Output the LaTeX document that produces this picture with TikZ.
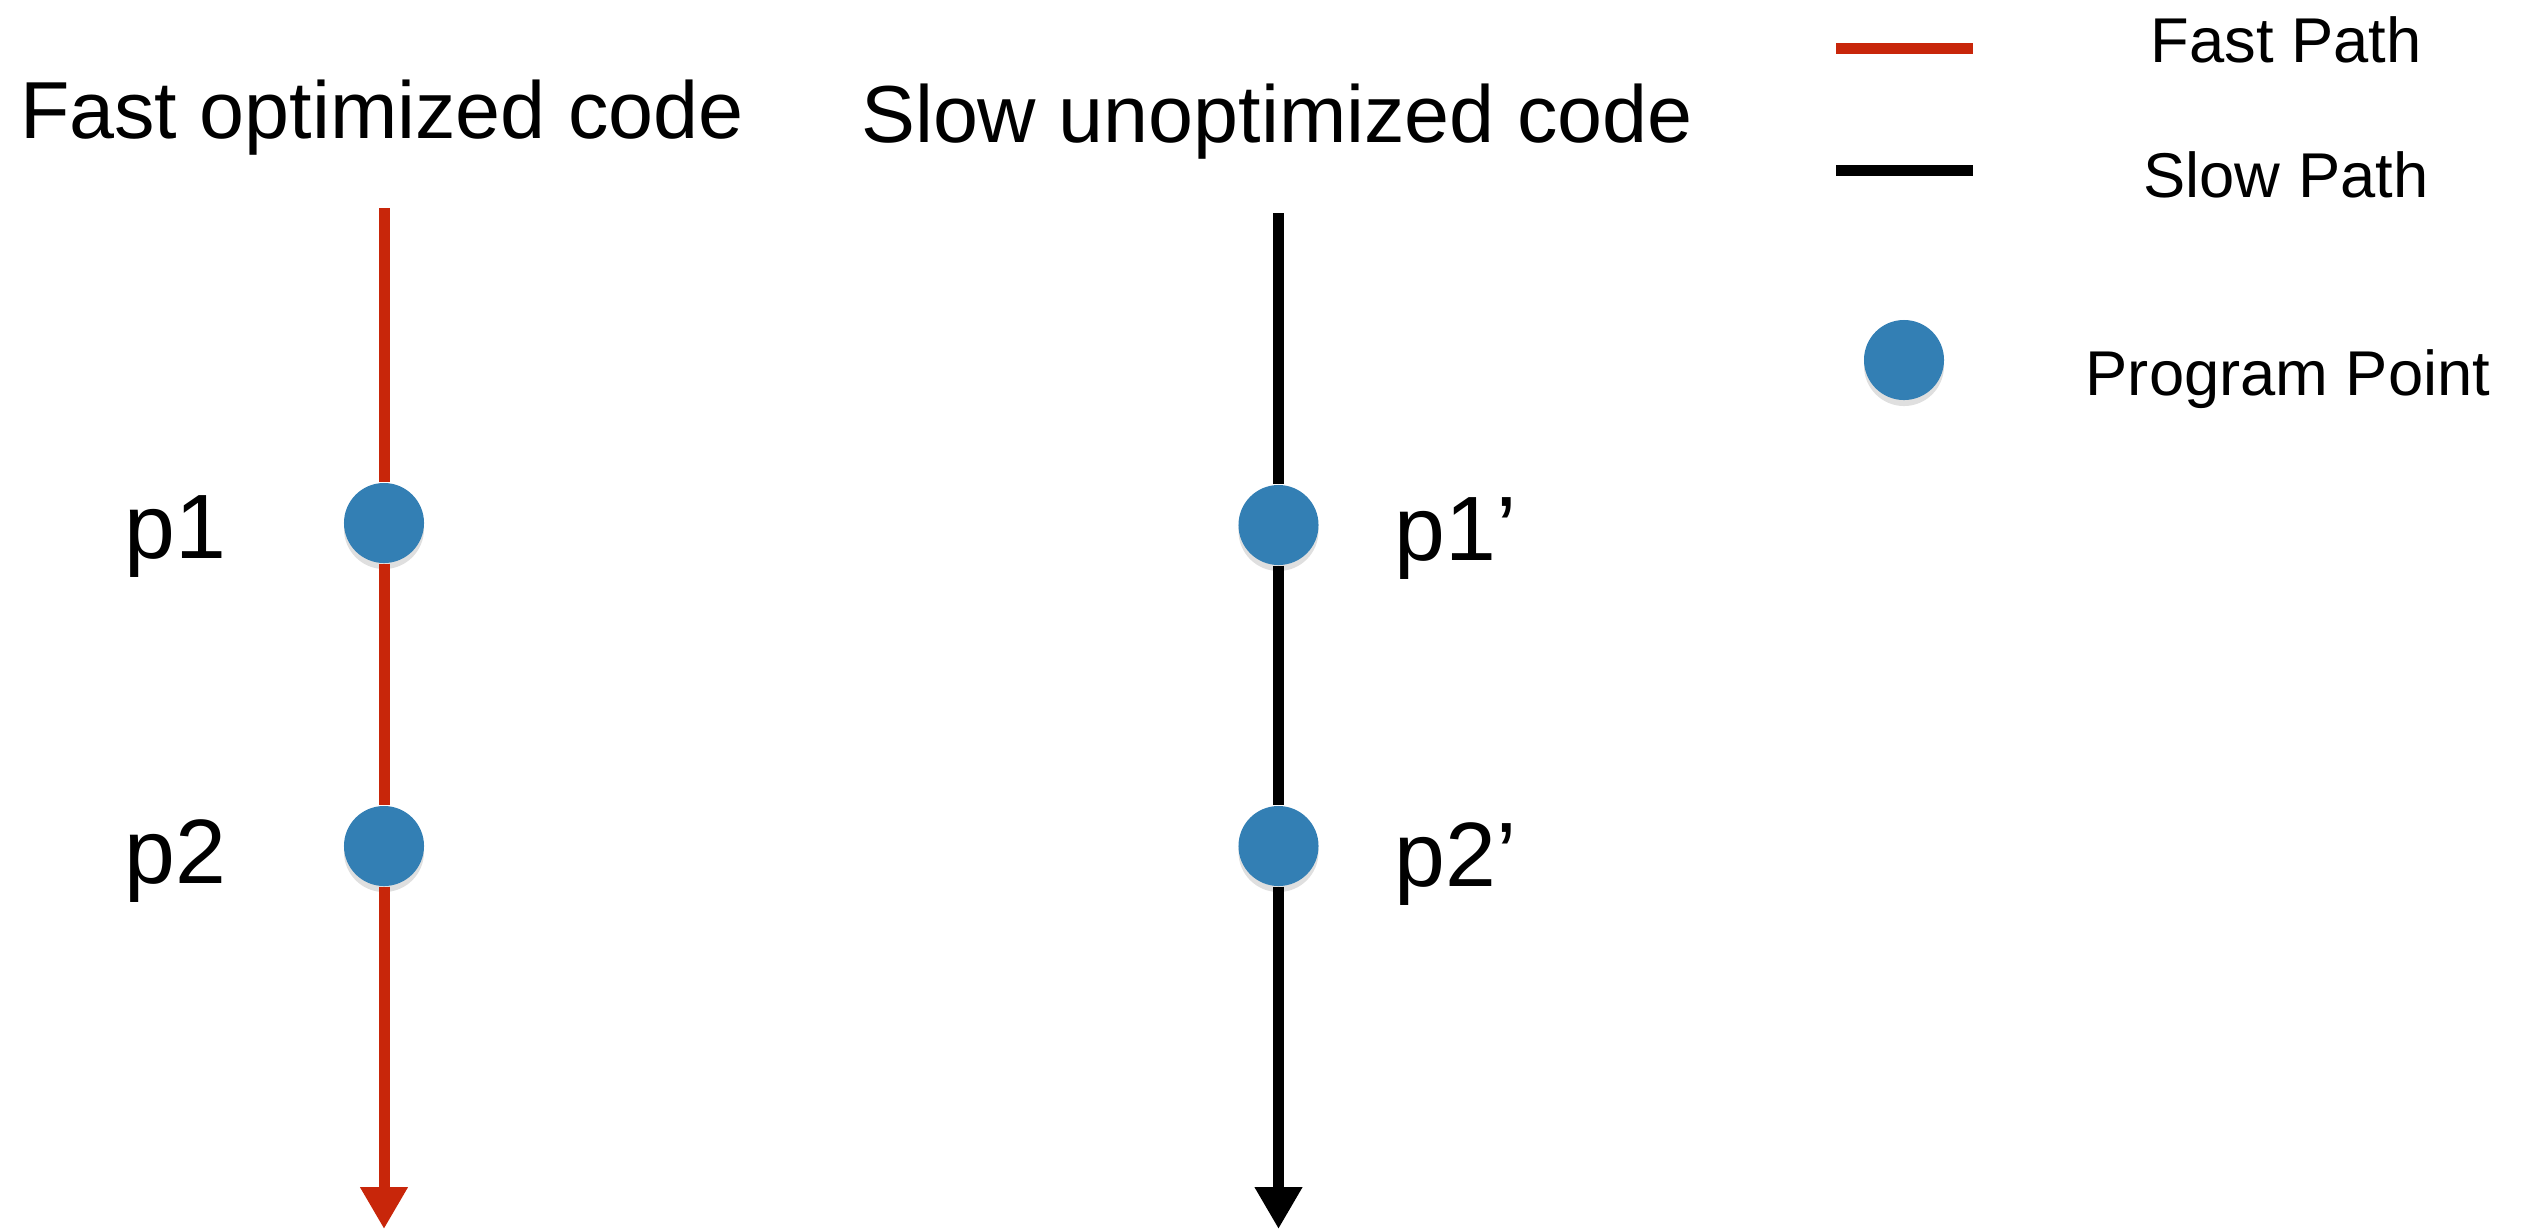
\documentclass[tikz,border=0pt]{standalone}
\usepackage{fontspec}
\setmainfont{Liberation Sans}
\usetikzlibrary{arrows.meta,shadows}
\definecolor{fastred}{RGB}{200,38,10}
\definecolor{ptblue}{RGB}{51,127,180}
\tikzset{
  titletext/.style={anchor=base,inner sep=0pt,font=\fontsize{23}{27}\selectfont},
  legtext/.style={anchor=base,inner sep=0pt,font=\fontsize{18}{22}\selectfont},
  ptlabel/.style={anchor=base west,inner sep=0pt,font=\fontsize{26}{30}\selectfont},
  ptdot/.style={circle,fill=ptblue,minimum size=0.8cm,inner sep=0pt,
    drop shadow={opacity=0.25,shadow xshift=0pt,shadow yshift=-0.06cm}},
  fastline/.style={draw=fastred,line width=0.11cm},
  slowline/.style={draw=black,line width=0.11cm},
  arrowend/.style={-{Triangle[width=0.45cm,length=0.42cm]}}
}
\begin{document}
\begin{tikzpicture}[x=0.01cm,y=-0.01cm]
\useasboundingbox (0,0) rectangle (2523,1229);
% titles
\node[titletext] (tfast) at (382,138) {Fast optimized code};
\node[titletext] (tslow) at (1277,142) {Slow unoptimized code};
% coordinates
\coordinate (ftop) at (384,208);
\coordinate (fbot) at (384,1229);
\coordinate (stop) at (1278.5,213);
\coordinate (sbot) at (1278.5,1229);
% program points
\node[ptdot] (fp1) at (384,523) {};
\node[ptdot] (fp2) at (384,846) {};
\node[ptdot] (sp1) at (1278.5,525) {};
\node[ptdot] (sp2) at (1278.5,846) {};
% paths
\draw[fastline] (ftop) -- (fp1);
\draw[fastline] (fp1) -- (fp2);
\draw[fastline,arrowend] (fp2) -- (fbot);
\draw[slowline] (stop) -- (sp1);
\draw[slowline] (sp1) -- (sp2);
\draw[slowline,arrowend] (sp2) -- (sbot);
% labels
\node[ptlabel] (l1) at (124,558) {p1};
\node[ptlabel] (l2) at (124,883) {p2};
\node[ptlabel] (l1s) at (1394,560) {p1’};
\node[ptlabel] (l2s) at (1394,886) {p2’};
% legend
\coordinate (lfa) at (1836,48);
\coordinate (lfb) at (1973,48);
\coordinate (lsa) at (1836,170);
\coordinate (lsb) at (1973,170);
\draw[draw=fastred,line width=0.11cm] (lfa) -- (lfb);
\draw[draw=black,line width=0.11cm] (lsa) -- (lsb);
\node[ptdot] (ldot) at (1904,360) {};
\node[legtext] (lt1) at (2286,62) {Fast Path};
\node[legtext] (lt2) at (2286,197) {Slow Path};
\node[legtext] (lt3) at (2288,395) {Program Point};
\end{tikzpicture}
\end{document}
